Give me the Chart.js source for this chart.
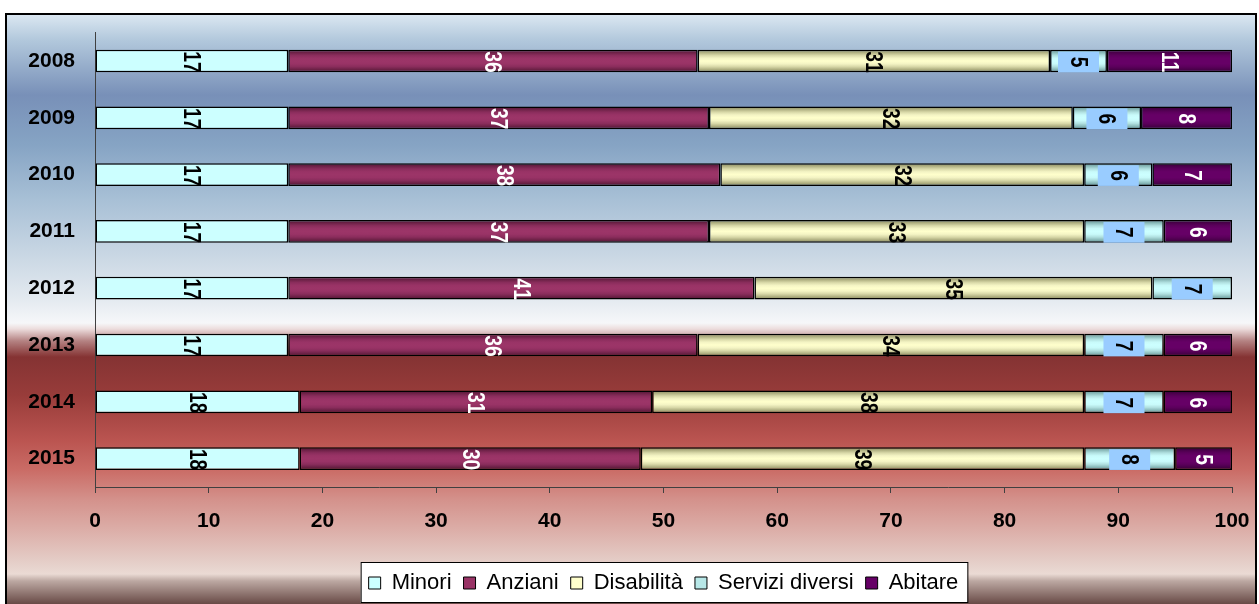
<!DOCTYPE html>
<html>
<head>
<meta charset="utf-8">
<title>Servizi 2008-2015</title>
<script src="https://cdn.jsdelivr.net/npm/chart.js@4.4.1/dist/chart.umd.min.js"></script>
<style>
  html, body { margin: 0; padding: 0; background: #fff; }
  canvas { display: block; }
</style>
</head>
<body>
<canvas id="servizi_chart" width="1259" height="604"></canvas>
<script>
const years = ['2008', '2009', '2010', '2011', '2012', '2013', '2014', '2015'];

const minori         = [17, 17, 17, 17, 17, 17, 18, 18];
const anziani        = [36, 37, 38, 37, 41, 36, 31, 30];
const disabilita     = [31, 32, 32, 33, 35, 34, 38, 39];
const serviziDiversi = [5, 6, 6, 7, 7, 7, 7, 8];
const abitare        = [11, 8, 7, 6, null, 6, 6, 5];

const xTicks = [0, 10, 20, 30, 40, 50, 60, 70, 80, 90, 100];

// shading across each bar, edge -> centre -> edge
const shades = {
    minori:   ['#ccffff', '#ccffff'],
    anziani:  ['#4a1030', '#6c2146', '#8a2d5c', '#993366', '#9c3568', '#993366', '#8a2d5c', '#6c2146', '#4a1030'],
    disab:    ['#85855a', '#aeae80', '#d8d8a8', '#f4f4c4', '#ffffcc', '#f4f4c4', '#d8d8a8', '#aeae80', '#85855a'],
    servizi:  ['#5e8c8c', '#88b8b8', '#b0e0e0', '#c8fafa', '#ccffff', '#c8fafa', '#b0e0e0', '#88b8b8', '#5e8c8c'],
    abitare:  ['#300030', '#4a004a', '#5c005c', '#660066', '#660066', '#660066', '#5c005c', '#4a004a', '#300030']
};
const legendColors = ['#ccffff', '#993366', '#ffffcc', '#b8e8e8', '#660066'];
const labelColors  = ['#000', '#fff', '#000', '#000', '#fff'];

const BAR_PCT = 0.4;

function barFill(stops) {
    return (c) => {
        const chart = c.chart;
        if (c.type !== 'data' || !chart.chartArea || stops.length < 3) {
            return stops[Math.floor(stops.length / 2)];
        }
        const y = chart.scales.y;
        const mid = y.getPixelForValue(c.dataIndex);
        const half = y.height / years.length * BAR_PCT / 2;
        const g = chart.ctx.createLinearGradient(0, mid - half, 0, mid + half);
        stops.forEach((col, i) => g.addColorStop(i / (stops.length - 1), col));
        return g;
    };
}

// sky-to-brick backdrop inside the outer frame
const backdropStops = [
    [14, '#dce8f2'], [40, '#b2c8dc'], [95, '#7890b8'], [145, '#86a4c4'],
    [200, '#a8c0d6'], [260, '#ccd9e5'], [300, '#e4eaf0'], [323, '#f6f7f9'],
    [329, '#ecdcdc'], [341, '#b48282'], [357, '#853333'], [395, '#983c3a'],
    [440, '#ba5450'], [470, '#ca6c66'], [500, '#d4928c'], [530, '#dcaea8'],
    [560, '#e4ccc6'], [574, '#eadad4'], [581, '#bca8a2'], [604, '#684a46']
];

const backdrop = {
    id: 'backdrop',
    // keep the legend centred under the plot rather than the whole canvas
    afterLayout(chart) {
        const lg = chart.legend;
        if (lg) {
            lg.left = chart.chartArea.left;
            lg.right = chart.chartArea.right;
        }
    },
    beforeDraw(chart) {
        const ctx = chart.ctx;
        const top = 14, bottom = 604;
        ctx.save();
        const g = ctx.createLinearGradient(0, top, 0, bottom);
        backdropStops.forEach(([y, col]) => g.addColorStop((y - top) / (bottom - top), col));
        ctx.fillStyle = g;
        ctx.fillRect(6, top, 1250, bottom - top);
        ctx.strokeStyle = '#000';
        ctx.lineWidth = 2;
        ctx.strokeRect(6, top, 1250, bottom - top + 4);

        // white box behind the legend items
        const lg = chart.legend;
        if (lg && lg.legendHitBoxes && lg.legendHitBoxes.length) {
            const hb = lg.legendHitBoxes;
            const left = hb[0].left - 8;
            const last = hb[hb.length - 1];
            const right = last.left + last.width + 9;
            const bTop = lg.top + 2;
            ctx.fillStyle = '#fff';
            ctx.fillRect(left, bTop, right - left, lg.bottom - bTop - 1);
            ctx.lineWidth = 1;
            ctx.strokeStyle = '#000';
            ctx.strokeRect(left + 0.5, bTop + 0.5, right - left, lg.bottom - bTop - 2);
        }
        ctx.restore();
    }
};

// values written across each segment, turned a quarter clockwise
const segmentLabels = {
    id: 'segmentLabels',
    afterDatasetsDraw(chart) {
        const ctx = chart.ctx;
        ctx.save();
        ctx.font = 'bold 24px "Liberation Sans", Arial';
        ctx.textAlign = 'center';
        ctx.textBaseline = 'middle';
        chart.data.datasets.forEach((ds, di) => {
            const meta = chart.getDatasetMeta(di);
            meta.data.forEach((bar, i) => {
                const v = ds.data[i];
                if (v == null) return;
                const p = bar.getProps(['x', 'y', 'base', 'height'], true);
                const cx = (p.x + p.base) / 2;
                if (di === 3) {
                    ctx.fillStyle = '#99ccff';
                    ctx.fillRect(cx - 20.5, p.y - p.height / 2 + 2, 41, p.height - 2);
                }
                ctx.save();
                ctx.translate(cx, p.y + 1);
                ctx.rotate(Math.PI / 2);
                ctx.scale(0.8, 1);   // narrow digits so two fit the bar height
                ctx.fillStyle = labelColors[di];
                ctx.fillText(String(v), 0, 1);
                ctx.restore();
            });
        });
        ctx.restore();
    }
};

const tickFont = { family: 'Liberation Sans', size: 21, weight: 'bold' };

const ctx = document.getElementById('servizi_chart').getContext('2d');
const chart = new Chart(ctx, {
    type: 'bar',
    data: {
        labels: years,
        datasets: [
            { label: 'Minori',          data: minori,         backgroundColor: barFill(shades.minori) },
            { label: 'Anziani',         data: anziani,        backgroundColor: barFill(shades.anziani) },
            { label: 'Disabilità',      data: disabilita,     backgroundColor: barFill(shades.disab) },
            { label: 'Servizi diversi', data: serviziDiversi, backgroundColor: barFill(shades.servizi) },
            { label: 'Abitare',         data: abitare,        backgroundColor: barFill(shades.abitare) }
        ]
    },
    options: {
        indexAxis: 'y',
        responsive: false,
        animation: false,
        layout: { padding: { left: 27, right: 27, top: 32, bottom: 0 } },
        datasets: {
            bar: {
                borderColor: '#000',
                borderWidth: 1.5,
                borderSkipped: false,
                barPercentage: BAR_PCT,
                categoryPercentage: 1
            }
        },
        scales: {
            x: {
                stacked: true,
                min: 0,
                max: 100,
                afterBuildTicks: (s) => { s.ticks = xTicks.map(v => ({ value: v })); },
                afterFit: (s) => {
                    s.height = 73;
                    // the end labels may hang past the plot edges
                    s.paddingLeft = 0;
                    s.paddingRight = 0;
                },
                ticks: { color: '#000', font: tickFont, padding: 16 },
                grid: { drawOnChartArea: false, drawTicks: true, tickLength: 6, color: '#404040' },
                border: { color: '#404040', width: 1 }
            },
            y: {
                stacked: true,
                afterFit: (s) => { s.width = 68; },
                ticks: { color: '#000', font: tickFont, padding: 20 },
                grid: { display: false, drawTicks: false },
                border: { display: true, color: '#404040', width: 1 }
            }
        },
        plugins: {
            tooltip: { enabled: false },
            legend: {
                position: 'bottom',
                labels: {
                    color: '#000',
                    font: { family: 'Liberation Sans', size: 22 },
                    boxWidth: 12,
                    boxHeight: 12,
                    padding: 12,
                    generateLabels: (c) => c.data.datasets.map((ds, i) => ({
                        text: ds.label,
                        fillStyle: legendColors[i],
                        strokeStyle: '#000',
                        lineWidth: 1,
                        hidden: false,
                        datasetIndex: i
                    }))
                }
            }
        }
    },
    plugins: [backdrop, segmentLabels]
});
</script>
</body>
</html>
